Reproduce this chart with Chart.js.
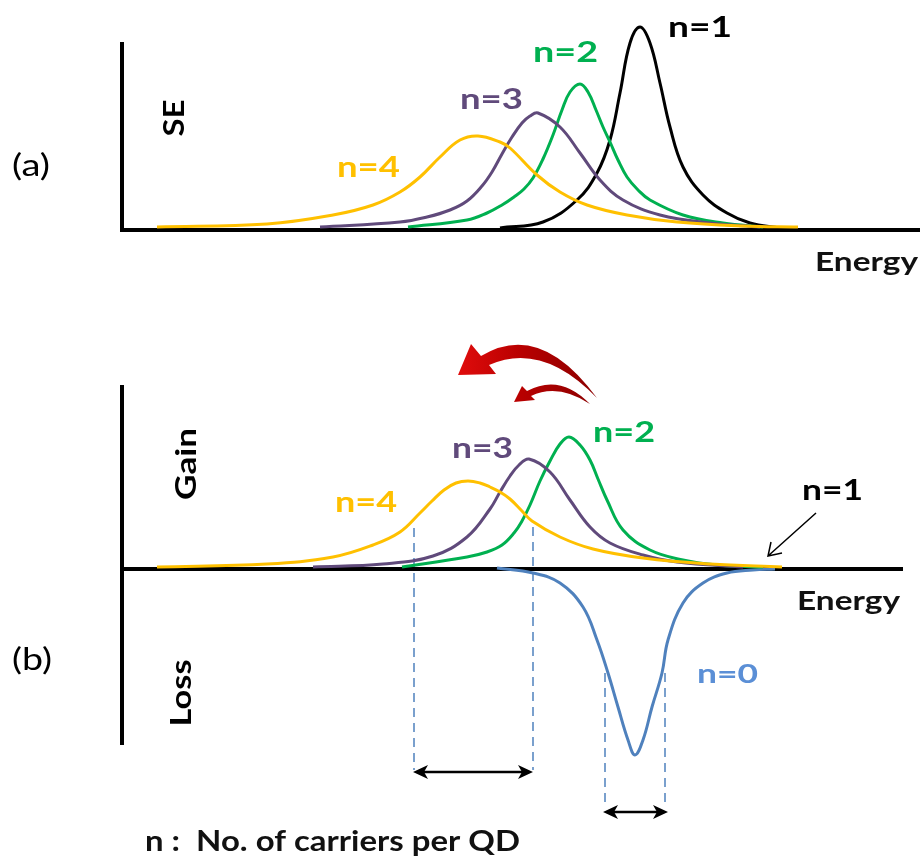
<!DOCTYPE html>
<html>
<head>
<meta charset="utf-8">
<script src="https://cdn.jsdelivr.net/npm/chart.js@4.4.1/dist/chart.umd.min.js"></script>
<style>
  body { margin: 0; background: #fff; }
  #wrap { position: relative; width: 924px; height: 862px; }
  canvas { position: absolute; left: 0; }
  #seChart { top: 0; }
  #gainChart { top: 300px; }
</style>
</head>
<body>
<div id="wrap">
  <canvas id="seChart" width="924" height="300"></canvas>
  <canvas id="gainChart" width="924" height="562"></canvas>
</div>
<script>
/* (a) SE spectra, energy and intensity in arbitrary units */
const seEnergyN1 = [378, 421, 455, 475, 488, 498, 508, 518, 528, 538, 548, 561, 581, 605, 628, 658];
const seValueN1 = [2, 8, 30, 57, 90, 137, 187, 203, 187, 147, 103, 63, 35, 17, 7, 2];
const seEnergyN2 = [286, 345, 365, 380, 392, 402, 411, 421, 431, 440, 448, 458, 466, 474, 481, 488, 496, 505, 516, 528, 561, 601, 641];
const seValueN2 = [3, 10, 17, 25, 33, 41, 52, 71, 95, 120, 138, 146, 138, 120, 103, 88, 70, 53, 40, 30, 15, 7, 3];
const seEnergyN3 = [198, 278, 305, 328, 345, 360, 370, 380, 390, 400, 408, 416, 438, 458, 478, 501, 538, 588, 638];
const seValueN3 = [3, 8, 13, 20, 29, 44, 58, 76, 93, 107, 114, 117, 103, 77, 50, 30, 15, 7, 3];
const seEnergyN4 = [35, 145, 211, 251, 278, 298, 318, 338, 356, 378, 388, 415, 438, 465, 505, 555, 621, 676];
const seValueN4 = [3, 6, 15, 25, 38, 53, 73, 90, 94, 88, 82, 55, 38, 25, 15, 8, 4, 3];

/* (b) gain (+) / loss (-) spectra */
const gainEnergyN2 = [280, 345, 365, 380, 392, 400, 408, 418, 428, 438, 447, 458, 468, 476, 485, 501, 528, 561, 595, 641];
const gainValueN2 = [2, 12, 17, 24, 36, 48, 64, 88, 108, 125, 132, 124, 109, 90, 69, 39, 19, 9, 4, 2];
const gainEnergyN3 = [191, 261, 311, 345, 368, 378, 388, 397, 407, 428, 448, 468, 488, 521, 555, 621];
const gainValueN3 = [2, 5, 13, 32, 60, 77, 93, 104, 110, 97, 69, 42, 26, 14, 7, 2];
const gainEnergyN4 = [35, 145, 211, 251, 278, 298, 310, 322, 334, 346, 358, 368, 378, 388, 400, 410, 438, 471, 521, 588, 660];
const gainValueN4 = [2, 5, 12, 24, 37, 56, 68, 79, 86, 88, 86, 82, 77, 70, 58, 48, 32, 20, 11, 5, 2];
const lossEnergyN0 = [375, 411, 438, 461, 475, 486, 496, 506, 513, 521, 530, 540, 546, 561, 581, 605, 631, 653];
const lossValueN0 = [1, -4, -14, -38, -71, -104, -138, -171, -186, -171, -138, -104, -71, -34, -14, -4, -1, 0];

// peak shift (n=4 -> n=3) and n=0 width markers
const shiftEnergy = [292, 411];
const shiftTop = [41, 42];
const shiftLevel = -203;
const widthEnergy = [483, 543];
const widthTop = [-104, -104];
const widthLevel = -243;

const colors = { n0: "#4F81BD", n1: "#000000", n2: "#00B050", n3: "#604A7B", n4: "#FFC000" };
const FONT = 'Lato, "Open Sans", "DejaVu Sans", sans-serif';

function curve(energy, value, color) {
  return {
    data: energy.map((e, i) => ({ x: e, y: value[i] })),
    borderColor: color,
    borderWidth: 3,
    pointRadius: 0,
    tension: 0.4,
    fill: false,
    clip: false,
  };
}

function guide(e, top, bottom) {
  return {
    data: [{ x: e, y: top }, { x: e, y: bottom }],
    borderColor: "#4F81BD",
    borderWidth: 1.5,
    borderDash: [9, 6],
    pointRadius: 0,
    tension: 0,
    fill: false,
    clip: false,
  };
}

// text with a target width (page coordinates)
function drawText(ctx, item, dy) {
  ctx.save();
  ctx.font = `${item.bold === false ? "normal" : "bold"} ${item.size}px ${FONT}`;
  ctx.fillStyle = item.color || "#111";
  const w = ctx.measureText(item.text).width;
  ctx.translate(item.x, item.y - dy);
  if (item.rot) {
    ctx.rotate(-Math.PI / 2);
    ctx.textAlign = "center";
  }
  ctx.scale(item.w / w, 1);
  ctx.textBaseline = "alphabetic";
  ctx.fillText(item.text, 0, 0);
  ctx.restore();
}

function drawAxes(chart, axis) {
  const { ctx, scales } = chart;
  const x0 = scales.x.getPixelForValue(0);
  ctx.save();
  ctx.strokeStyle = "#000";
  ctx.lineWidth = 4;
  ctx.beginPath();
  ctx.moveTo(x0, scales.y.getPixelForValue(axis.top));
  ctx.lineTo(x0, scales.y.getPixelForValue(axis.bottom) + 2);
  ctx.moveTo(x0 - 2, scales.y.getPixelForValue(0));
  ctx.lineTo(scales.x.getPixelForValue(axis.right), scales.y.getPixelForValue(0));
  ctx.stroke();
  ctx.restore();
}

// double headed arrow between two energies
function doubleArrow(chart, e1, e2, level) {
  const { ctx, scales } = chart;
  const x1 = scales.x.getPixelForValue(e1),
    x2 = scales.x.getPixelForValue(e2),
    y = scales.y.getPixelForValue(level);
  ctx.save();
  ctx.strokeStyle = "#000";
  ctx.fillStyle = "#000";
  ctx.lineWidth = 2.5;
  ctx.beginPath();
  ctx.moveTo(x1 + 6, y);
  ctx.lineTo(x2 - 6, y);
  ctx.stroke();
  [[x1, 1], [x2, -1]].forEach(([x, d]) => {
    ctx.beginPath();
    ctx.moveTo(x, y);
    ctx.lineTo(x + d * 15, y - 7);
    ctx.lineTo(x + d * 11, y);
    ctx.lineTo(x + d * 15, y + 7);
    ctx.closePath();
    ctx.fill();
  });
  ctx.restore();
}

function redArrows(ctx, dy) {
  ctx.save();
  ctx.translate(0, -dy);
  const grad = ctx.createLinearGradient(458, 0, 598, 0);
  grad.addColorStop(0, "#e00c0c");
  grad.addColorStop(0.45, "#b80000");
  grad.addColorStop(1, "#8a0000");
  ctx.fillStyle = grad;
  // big arrow
  ctx.beginPath();
  ctx.moveTo(458, 375);
  ctx.lineTo(471, 344);
  ctx.lineTo(481, 356);
  ctx.quadraticCurveTo(540, 320, 597, 398);
  ctx.quadraticCurveTo(542, 341, 489, 365);
  ctx.lineTo(496, 374);
  ctx.closePath();
  ctx.fill();
  // small arrow
  ctx.beginPath();
  ctx.moveTo(514, 402);
  ctx.lineTo(522, 386);
  ctx.lineTo(527, 391);
  ctx.quadraticCurveTo(560, 373, 590, 404);
  ctx.quadraticCurveTo(558, 383, 531, 396);
  ctx.lineTo(535, 400);
  ctx.closePath();
  ctx.fill();
  ctx.restore();
}

const seLabels = [
  { text: "n=1", x: 668, y: 37, w: 64, size: 29, color: colors.n1 },
  { text: "n=2", x: 533, y: 62, w: 65, size: 29, color: colors.n2 },
  { text: "n=3", x: 460, y: 109, w: 63, size: 29, color: colors.n3 },
  { text: "n=4", x: 337, y: 177, w: 63, size: 29, color: colors.n4 },
  { text: "Energy", x: 815, y: 271, w: 103, size: 27 },
  { text: "(a)", x: 12, y: 176, w: 38, size: 30, bold: false, color: "#000" },
  { text: "SE", x: 184, y: 118, w: 37, size: 28, rot: true, color: "#000" },
];

const gainLabels = [
  { text: "n=2", x: 593, y: 442, w: 62, size: 28, color: colors.n2 },
  { text: "n=3", x: 452, y: 458, w: 61, size: 28, color: colors.n3 },
  { text: "n=4", x: 335, y: 512, w: 62, size: 28, color: colors.n4 },
  { text: "n=1", x: 802, y: 500, w: 61, size: 28, color: colors.n1 },
  { text: "n=0", x: 697, y: 683, w: 61, size: 27, color: "#5B8FD6" },
  { text: "Energy", x: 797, y: 610, w: 103, size: 27 },
  { text: "(b)", x: 12, y: 670, w: 40, size: 30, bold: false, color: "#000" },
  { text: "Gain", x: 196, y: 464, w: 72, size: 29, rot: true, color: "#000" },
  { text: "Loss", x: 191, y: 693, w: 67, size: 29, rot: true, color: "#000" },
  { text: "n :  No. of carriers per QD", x: 145, y: 851, w: 375, size: 28 },
];

const baseOptions = (pad, yMin, yMax) => ({
  responsive: false,
  animation: false,
  events: [],
  layout: { padding: pad },
  plugins: { legend: { display: false }, tooltip: { enabled: false } },
  scales: {
    x: { type: "linear", min: 0, max: 800, display: false },
    y: { type: "linear", min: yMin, max: yMax, display: false },
  },
});

/* (a) SE chart ###################### */
new Chart(document.getElementById("seChart"), {
  type: "line",
  data: {
    datasets: [
      curve(seEnergyN4, seValueN4, colors.n4),
      curve(seEnergyN3, seValueN3, colors.n3),
      curve(seEnergyN2, seValueN2, colors.n2),
      curve(seEnergyN1, seValueN1, colors.n1),
    ],
  },
  options: baseOptions({ left: 122, right: 2, top: 15, bottom: 70 }, 0, 215),
  plugins: [
    {
      id: "seDecor",
      beforeDatasetsDraw(chart) {
        drawAxes(chart, { top: 188, bottom: 0, right: 798 });
      },
      afterDraw(chart) {
        seLabels.forEach((l) => drawText(chart.ctx, l, 0));
      },
    },
  ],
});

/* (b) gain / loss chart ###################### */
const gainDatasets = [
  curve(gainEnergyN4, gainValueN4, colors.n4),
  curve(gainEnergyN3, gainValueN3, colors.n3),
  curve(gainEnergyN2, gainValueN2, colors.n2),
  curve(lossEnergyN0, lossValueN0, colors.n0),
];
shiftEnergy.forEach((e, i) => gainDatasets.push(guide(e, shiftTop[i], shiftLevel + 2)));
widthEnergy.forEach((e, i) => gainDatasets.push(guide(e, widthTop[i], widthLevel + 10)));

new Chart(document.getElementById("gainChart"), {
  type: "line",
  data: { datasets: gainDatasets },
  options: baseOptions({ left: 122, right: 2, top: 80, bottom: 32 }, -261, 189),
  plugins: [
    {
      id: "gainDecor",
      beforeDatasetsDraw(chart) {
        drawAxes(chart, { top: 184, bottom: -174, right: 781 });
      },
      afterDraw(chart) {
        const ctx = chart.ctx;
        doubleArrow(chart, shiftEnergy[0] - 1, shiftEnergy[1], shiftLevel);
        doubleArrow(chart, widthEnergy[0] - 2, widthEnergy[1] + 3, widthLevel);
        redArrows(ctx, 300);
        // pointer to the flat n=1 gain
        ctx.save();
        ctx.translate(0, -300);
        ctx.strokeStyle = "#000";
        ctx.lineWidth = 1.5;
        ctx.beginPath();
        ctx.moveTo(816, 513);
        ctx.lineTo(768, 556);
        ctx.moveTo(771, 542);
        ctx.lineTo(768, 556);
        ctx.lineTo(782, 553);
        ctx.stroke();
        ctx.restore();
        gainLabels.forEach((l) => drawText(ctx, l, 300));
      },
    },
  ],
});
</script>
</body>
</html>
